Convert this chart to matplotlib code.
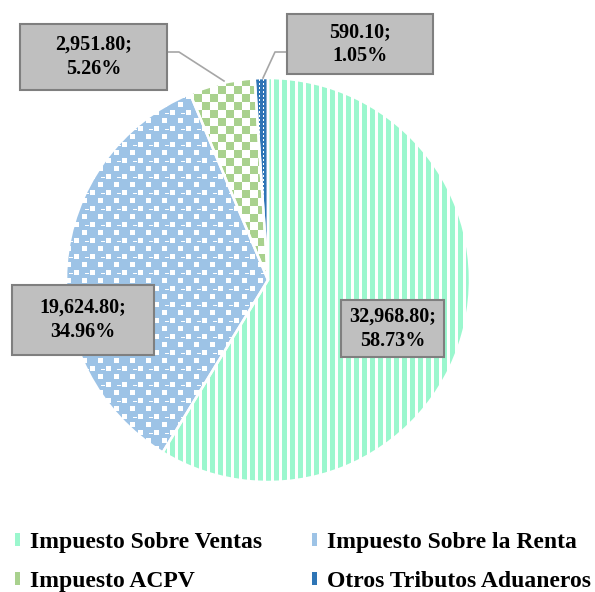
import numpy as np
import matplotlib
matplotlib.use("Agg")
import matplotlib.pyplot as plt
from matplotlib.patches import Rectangle, Patch

# recaudación por tributo
categorias = ["Impuesto Sobre Ventas", "Impuesto Sobre la Renta",
              "Impuesto ACPV", "Otros Tributos Aduaneros"]
montos = [32968.80, 19624.80, 2951.80, 590.10]

W, H = 595, 592
CX, CY, R = 268, H - 280, 202

plt.rcParams['font.family'] = ['Liberation Serif', 'DejaVu Serif']
plt.rcParams['font.weight'] = 'bold'


def rgb(h):
    h = h.lstrip('#')
    return np.array([int(h[i:i + 2], 16) / 255 for i in (0, 2, 4)])


white = np.ones(3)
n = 2 * R
yy, xx = np.indices((n, n))


def stripes(c):
    m = (xx % 8) < 5
    return np.where(m[..., None], rgb(c), white)


def dots(c):
    # cuadros blancos pequeños sobre fondo azul, con una raya clara
    hole = ((xx % 8) < 5) & ((yy % 8) < 5)
    hole = hole & (((xx // 8) + (yy // 8)) % 2 == 1)
    dash = (yy % 16 == 3) & (xx % 16 >= 3) & (xx % 16 <= 6)
    m = ~(hole | dash)
    return np.where(m[..., None], rgb(c), white)


def checker(c):
    m = ((xx // 8) + (yy // 8)) % 2 == 0
    return np.where(m[..., None], rgb(c), white)


def small_grid(c):
    hole = ((xx % 4) == 1) & ((yy % 4) >= 1) & ((yy % 4) <= 2)
    return np.where(hole[..., None], white, rgb(c))


rellenos = [stripes('#9BF7CE'), dots('#9DC3E6'),
            checker('#A9D18E'), small_grid('#2E75B6')]
colores = ['#9BF7CE', '#9DC3E6', '#A9D18E', '#2E75B6']

fig = plt.figure(figsize=(W / 100, H / 100), dpi=100)
ax = fig.add_axes([0, 0, 1, 1])

wedges, _ = ax.pie(montos, startangle=90, counterclock=False,
                   center=(CX, CY), radius=R,
                   wedgeprops=dict(facecolor='none', edgecolor='white',
                                   linewidth=1.8, zorder=3))

for w, img in zip(wedges, rellenos):
    im = ax.imshow(img, extent=(CX - R, CX + R, CY - R, CY + R),
                   interpolation='nearest', zorder=2)
    im.set_clip_path(w)

ax.set_xlim(0, W)
ax.set_ylim(0, H)
ax.set_aspect('auto')
ax.axis('off')

# cajas de etiquetas: izquierda, arriba, derecha, abajo (px desde arriba)
cajas = [(341, 300, 444, 357), (12, 285, 154, 355),
         (20, 24, 167, 90), (287, 14, 433, 74)]
total = sum(montos)
for v, (x0, t, x1, b) in zip(montos, cajas):
    ax.add_patch(Rectangle((x0, H - b), x1 - x0, b - t, facecolor='#BFBFBF',
                           edgecolor='#7F7F7F', linewidth=1.5, zorder=5))
    ax.text((x0 + x1) / 2, H - (t + b) / 2,
            f"{v:,.2f};\n{v / total * 100:.2f}%",
            ha='center', va='center', fontsize=14.5, fontweight='bold',
            linespacing=1.3, zorder=6)

# líneas guía
ax.plot([167, 179, 224], [H - 52, H - 52, H - 81], color='#A6A6A6',
        linewidth=1.2, zorder=4)
ax.plot([287, 275, 263], [H - 52, H - 52, H - 78], color='#A6A6A6',
        linewidth=1.2, zorder=4)

handles = [Patch(facecolor=c, edgecolor='none') for c in colores]
orden = [0, 2, 1, 3]
ax.legend([handles[i] for i in orden], [categorias[i] for i in orden],
          ncol=2, loc='upper left', bbox_to_anchor=(15, H - 532),
          bbox_transform=ax.transData, frameon=False,
          handlelength=0.22, handleheight=0.45, handletextpad=0.42,
          columnspacing=2.1, labelspacing=0.75, borderpad=0,
          borderaxespad=0, prop=dict(weight='bold', size=17))

fig.savefig("out.png", dpi=100)
